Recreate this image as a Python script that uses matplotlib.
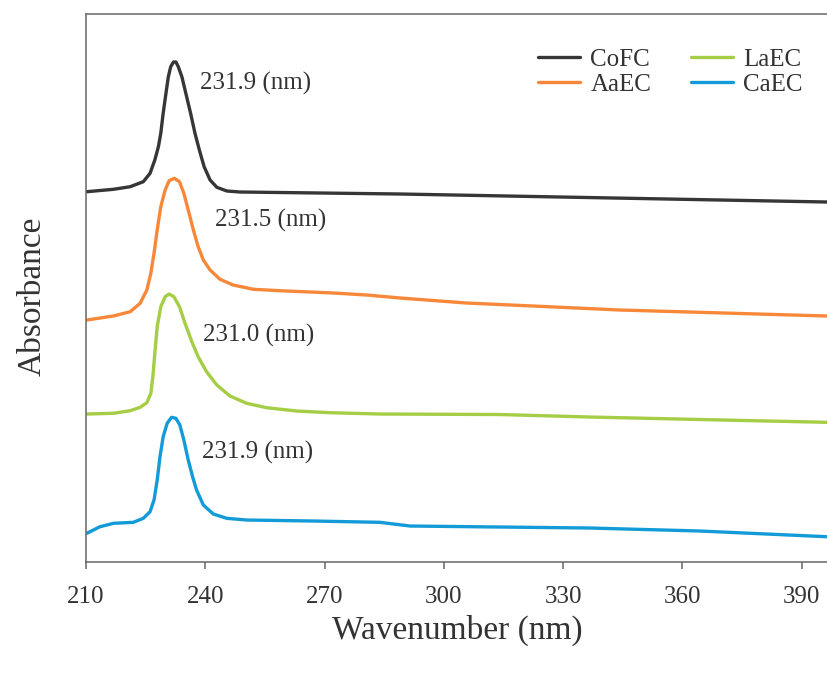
import matplotlib
matplotlib.use("Agg")
import matplotlib.pyplot as plt

plt.rcParams['font.family'] = ['Liberation Serif', 'DejaVu Serif']
plt.rcParams['text.color'] = '#333333'

# Wavelength (nm) and absorbance (a.u., offset traces)
cofc_x = [210.2, 216.9, 221.1, 224.4, 226.1, 227.3, 228.2, 228.8, 229.4, 230.1, 230.7, 231.3,
          232.0, 232.6, 233.2, 234.1, 235.1, 236.3, 237.4, 238.5, 239.7, 241.2, 242.9, 245.4,
          248.7, 289.0, 329.2, 396.3]
cofc_y = [3.703, 3.727, 3.753, 3.803, 3.887, 4.02, 4.153, 4.287, 4.487, 4.687, 4.853, 4.953,
          5.00, 5.00, 4.953, 4.853, 4.687, 4.487, 4.287, 4.12, 3.953, 3.82, 3.747, 3.71,
          3.70, 3.68, 3.65, 3.60]

aaec_x = [210.2, 216.9, 221.1, 223.6, 225.3, 226.3, 227.1, 227.9, 228.8, 229.9, 230.9, 232.2,
          233.5, 234.6, 235.7, 237.0, 238.2, 239.5, 241.2, 243.7, 247.0, 252.1, 258.8, 272.2,
          280.6, 289.0, 305.7, 322.4, 344.3, 396.3]
aaec_y = [2.42, 2.46, 2.503, 2.587, 2.72, 2.887, 3.087, 3.32, 3.553, 3.72, 3.813, 3.837,
          3.803, 3.687, 3.52, 3.32, 3.153, 3.02, 2.92, 2.827, 2.77, 2.727, 2.713, 2.69,
          2.67, 2.64, 2.59, 2.56, 2.52, 2.46]

laec_x = [210.2, 216.9, 221.1, 223.6, 225.3, 226.3, 226.8, 227.3, 227.9, 228.8, 229.9, 230.9,
          232.1, 233.5, 234.9, 236.6, 238.2, 240.3, 242.9, 246.2, 250.4, 255.4, 263.0, 271.4,
          283.9, 314.1, 336.7, 364.4, 396.3]
laec_y = [1.48, 1.487, 1.513, 1.547, 1.593, 1.687, 1.853, 2.087, 2.353, 2.553, 2.653, 2.68,
          2.653, 2.553, 2.387, 2.203, 2.053, 1.903, 1.77, 1.66, 1.587, 1.543, 1.51, 1.493,
          1.48, 1.475, 1.45, 1.425, 1.397]

caec_x = [210.2, 213.5, 216.9, 221.9, 224.4, 226.1, 227.1, 227.9, 228.6, 229.4, 230.4, 231.5,
          232.6, 233.6, 234.6, 235.7, 236.8, 237.8, 239.5, 242.0, 245.4, 250.4, 267.2, 283.9,
          291.5, 336.7, 364.4, 396.3]
caec_y = [0.287, 0.353, 0.387, 0.397, 0.437, 0.503, 0.62, 0.82, 1.053, 1.253, 1.387, 1.447,
          1.437, 1.37, 1.22, 1.02, 0.853, 0.72, 0.57, 0.48, 0.437, 0.42, 0.41, 0.397,
          0.36, 0.34, 0.31, 0.253]

names = ['CoFC', 'AaEC', 'LaEC', 'CaEC']
colors = ['#363636', '#f7883a', '#a5cd45', '#139bd8']
peak_labels = ['231.9 (nm)', '231.5 (nm)', '231.0 (nm)', '231.9 (nm)']

fig = plt.figure(figsize=(8.28, 6.73), dpi=100)
ax = fig.add_axes([0.1039, 0.1649, 0.8961, 0.8143])

series = [(cofc_x, cofc_y), (aaec_x, aaec_y), (laec_x, laec_y), (caec_x, caec_y)]
for (xs, ys), name, col in zip(series, names, colors):
    ax.plot(xs, ys, color=col, lw=2.4, label=name,
            solid_capstyle='round', solid_joinstyle='round')

# peak annotations
label_pos = [(238.7, 4.787), (242.4, 3.42), (239.4, 2.27), (239.2, 1.10)]
for (lx, ly), txt in zip(label_pos, peak_labels):
    ax.text(lx, ly, txt, fontsize=18, ha='left', va='center', color='#333333')

ax.set_xlim(210, 396.6)
ax.set_ylim(0, 5.48)
ax.set_xticks([210, 240, 270, 300, 330, 360, 390])
ax.set_yticks([])
ax.tick_params(axis='x', direction='out', length=5, width=1.1, color='#666666',
               labelsize=18, labelcolor='#333333', pad=12)

for side in ['left', 'bottom', 'top']:
    ax.spines[side].set_color('#666666')
    ax.spines[side].set_linewidth(1.1)
ax.spines['right'].set_visible(False)

ax.set_xlabel('Wavenumber (nm)', fontsize=24, labelpad=5, color='#333333')
ax.set_ylabel('Absorbance', fontsize=24, color='#333333')
ax.yaxis.set_label_coords(-0.052, 0.4845)

ax.legend(ncol=2, loc='upper right', bbox_to_anchor=(0.966, 0.937), frameon=False,
          fontsize=18, handlelength=1.68, handletextpad=0.4, columnspacing=1.6,
          labelspacing=0.1, borderaxespad=0, borderpad=0)

fig.savefig('out.png', dpi=100)
